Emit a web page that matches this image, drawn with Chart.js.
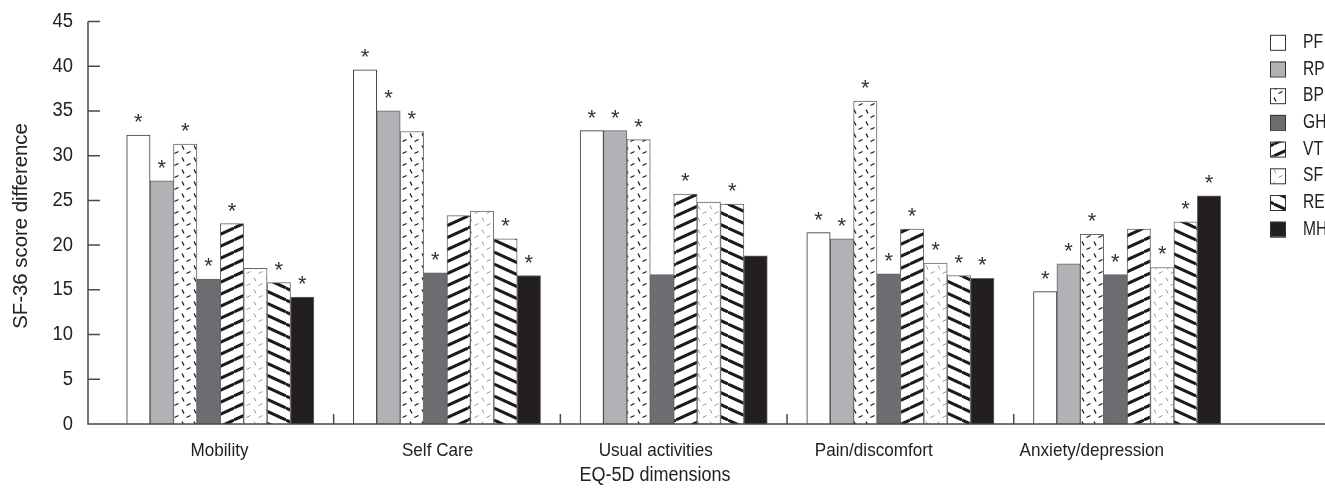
<!DOCTYPE html>
<html>
<head>
<meta charset="utf-8">
<title>SF-36 by EQ-5D</title>
<script src="https://cdn.jsdelivr.net/npm/chart.js@4"></script>
<style>
  body { margin: 0; background: #fff; }
  canvas { display: block; }
</style>
</head>
<body>
<canvas id="chart" width="1325" height="490"></canvas>
<script>
const categories = ['Mobility', 'Self Care', 'Usual activities', 'Pain/discomfort', 'Anxiety/depression'];
const seriesNames = ['PF', 'RP', 'BP', 'GH', 'VT', 'SF', 'RE', 'MH'];
const yTicks = [0, 5, 10, 15, 20, 25, 30, 35, 40, 45];

// SF-36 score difference per EQ-5D dimension
const pf = [32.3, 39.6, 32.8, 21.4, 14.8];
const rp = [27.2, 35.0, 32.8, 20.7, 17.9];
const bp = [31.3, 32.7, 31.8, 36.1, 21.2];
const gh = [16.2, 16.9, 16.7, 16.8, 16.7];
const vt = [22.4, 23.3, 25.7, 21.8, 21.8];
const sf = [17.4, 23.8, 24.8, 18.0, 17.5];
const re = [15.8, 20.7, 24.6, 16.6, 22.6];
const mh = [14.2, 16.6, 18.8, 16.3, 25.5];

// 1 = marked with an asterisk
const pfSig = [1, 1, 1, 1, 1];
const rpSig = [1, 1, 1, 1, 1];
const bpSig = [1, 1, 1, 1, 1];
const ghSig = [1, 1, 0, 1, 1];
const vtSig = [1, 0, 1, 1, 0];
const sfSig = [0, 0, 0, 1, 1];
const reSig = [1, 1, 1, 1, 1];
const mhSig = [1, 1, 0, 1, 1];

const values = [pf, rp, bp, gh, vt, sf, re, mh];
const sigs = [pfSig, rpSig, bpSig, ghSig, vtSig, sfSig, reSig, mhSig];

const FONT = '"Liberation Sans", Arial, sans-serif';
const ctx = document.getElementById('chart').getContext('2d');

function tile(w, h, draw) {
  const c = document.createElement('canvas');
  c.width = w; c.height = h;
  const g = c.getContext('2d');
  g.fillStyle = '#fff';
  g.fillRect(0, 0, w, h);
  draw(g);
  return ctx.createPattern(c, 'repeat');
}

function hatch(up) {
  return tile(26, 12, g => {
    g.strokeStyle = '#1a1a1a';
    g.lineWidth = 3;
    for (const k of [-1, 0, 1]) {
      g.beginPath();
      if (up) { g.moveTo(0, 12 + 12 * k); g.lineTo(26, 12 * k); }
      else { g.moveTo(0, 12 * k); g.lineTo(26, 12 + 12 * k); }
      g.stroke();
    }
  });
}

function dashes(color, lw) {
  return tile(12, 12, g => {
    g.strokeStyle = color;
    g.lineWidth = lw;
    g.beginPath();
    g.moveTo(2, 1.5); g.lineTo(4, 5.5);
    g.moveTo(6.5, 9.5); g.lineTo(10.5, 7.5);
    g.stroke();
  });
}

const fills = [
  '#ffffff',
  '#b1b2b6',
  dashes('#1a1a1a', 1.3),
  '#6c6d71',
  hatch(true),
  dashes('#999999', 1),
  hatch(false),
  '#231f20'
];

const datasets = seriesNames.map((name, s) => ({
  label: name,
  xAxisID: 'x',
  data: categories.map((c, i) => ({ x: i, y: values[s][i] })),
  backgroundColor: fills[s],
  borderColor: s === 0 ? '#333' : '#666',
  borderWidth: 1,
  borderSkipped: 'bottom',
  barThickness: 23.4
}));

// condensed-looking text: squeeze horizontally around the anchor point
function text(c, str, x, y, size, squeeze, align) {
  c.save();
  c.font = size + 'px ' + FONT;
  c.textAlign = align || 'center';
  c.textBaseline = 'middle';
  c.translate(x, y);
  c.scale(squeeze, 1);
  c.fillText(str, 0, 0);
  c.restore();
}

const drawExtras = {
  id: 'drawExtras',
  afterDatasetsDraw(chart) {
    const c = chart.ctx;
    c.save();
    c.fillStyle = '#333';
    c.font = '22px ' + FONT;
    c.textAlign = 'center';
    c.textBaseline = 'alphabetic';
    datasets.forEach((ds, s) => {
      chart.getDatasetMeta(s).data.forEach((bar, i) => {
        if (sigs[s][i]) c.fillText('*', bar.x, bar.y - 6);
      });
    });
    c.restore();
  },
  afterDraw(chart) {
    const c = chart.ctx;
    const { x, xl, y } = chart.scales;
    const area = chart.chartArea;
    const y0 = y.getPixelForValue(0);
    const yTop = y.getPixelForValue(45);
    c.save();
    c.strokeStyle = '#4a4a4a';
    c.lineWidth = 1.5;
    c.beginPath();
    c.moveTo(area.left, yTop);
    c.lineTo(area.left, y0);
    c.lineTo(area.right, y0);
    yTicks.forEach(v => {
      if (v === 0) return;
      const py = y.getPixelForValue(v);
      c.moveTo(area.left, py);
      c.lineTo(area.left + 12, py);
    });
    for (let i = 0; i < categories.length - 1; i++) {
      const px = x.getPixelForValue(i + 0.5);
      c.moveTo(px, y0);
      c.lineTo(px, y0 - 10);
    }
    c.stroke();

    c.fillStyle = '#222';
    yTicks.forEach(v => text(c, String(v), area.left - 15, y.getPixelForValue(v), 20, 0.92, 'right'));

    categories.forEach((name, i) => text(c, name, xl.getPixelForValue(i), 451, 19, 0.9));

    text(c, 'EQ-5D dimensions', 655, 475, 20, 0.9);
    c.save();
    c.translate(21, 226);
    c.rotate(-Math.PI / 2);
    text(c, 'SF-36 score difference', 0, 0, 21, 0.97);
    c.restore();

    // legend
    seriesNames.forEach((name, s) => {
      const cy = 42.3 + 26.7 * s;
      c.fillStyle = fills[s];
      c.fillRect(1270, cy - 7.5, 15, 15);
      c.strokeStyle = '#333';
      c.lineWidth = 1;
      c.strokeRect(1270.5, cy - 7, 15, 15);
      c.fillStyle = '#222';
      text(c, name, 1303, cy, 20, 0.78, 'left');
    });
    c.restore();
  }
};

new Chart(ctx, {
  type: 'bar',
  data: { datasets },
  options: {
    responsive: false,
    animation: false,
    layout: { padding: { left: 88, top: 21.5, right: 0, bottom: 66 } },
    scales: {
      x: { type: 'linear', min: -0.5836, max: 4.873, offset: false, grid: { offset: false }, display: false },
      xl: { type: 'linear', axis: 'x', position: 'bottom', min: -0.603, max: 5.069, offset: false, grid: { offset: false }, display: false },
      y: { min: 0, max: 45, display: false }
    },
    plugins: { legend: { display: false }, tooltip: { enabled: false } }
  },
  plugins: [drawExtras]
});
</script>
</body>
</html>
